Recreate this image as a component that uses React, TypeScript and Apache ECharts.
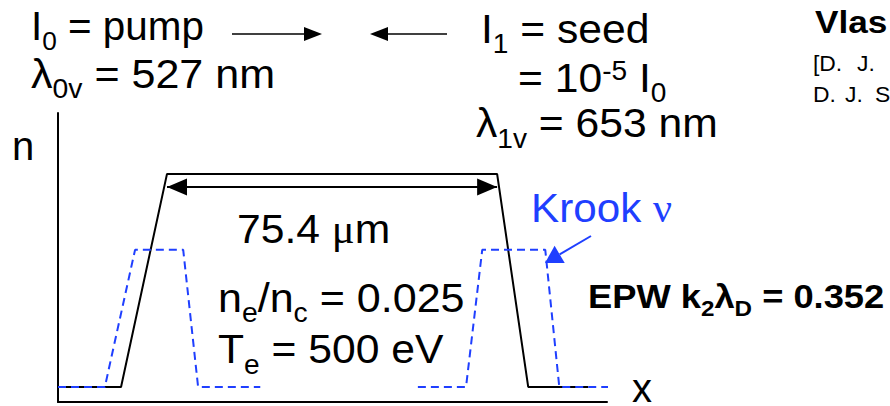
import { useEffect, useRef } from "react";
import * as echarts from "echarts";

// Density profile n(x): x in μm, n normalised to the plateau density
const densityX = [0, 14.4, 24.9, 100.3, 107.4, 121.1];
const densityN = [0.066, 0.066, 1, 1, 0.066, 0.066];

// Krook damping profile: absorbing layer on each side of the plasma
const krookLeftX = [0, 10.7, 17.6, 28.6, 32.0, 46.2];
const krookLeftV = [0.066, 0.066, 0.667, 0.667, 0.066, 0.066];
const krookRightX = [82.2, 93.2, 96.9, 111.3, 114.5, 128.9];
const krookRightV = [0.066, 0.066, 0.667, 0.667, 0.066, 0.066];

// Plateau width annotation (μm) and height of the dimension arrow
const plateauWidth = 75.4;
const dimArrowLevel = 0.943;

const X_MAX = 125.4;
const Y_MAX = 1.267;

const SANS = "'Liberation Sans', Arial, Helvetica, sans-serif";
const SERIF = "'Liberation Serif', 'Times New Roman', serif";
const BLUE = "#1f3fff";
// offset from the alphabetic baseline to the svg "central" baseline
const CENTRAL = 0.3465;

type Seg = { t: string; size?: number; dy?: number; family?: string; color?: string };
type RunOpts = { size: number; weight?: string; color?: string; family?: string; scaleX?: number };

let ctx: CanvasRenderingContext2D | null = null;
function textWidth(t: string, size: number, weight: string, family: string) {
  if (!ctx) ctx = document.createElement("canvas").getContext("2d");
  if (!ctx) return t.length * size * 0.55;
  ctx.font = `${weight} ${size}px ${family}`;
  return ctx.measureText(t).width;
}

// A line of text made of segments (sub/superscripts shift by dy), left-aligned at a baseline
function run(x: number, y: number, segs: Seg[], o: RunOpts) {
  const weight = o.weight ?? "normal";
  const children: any[] = [];
  let cx = 0;
  for (const s of segs) {
    const size = s.size ?? o.size;
    const family = s.family ?? o.family ?? SANS;
    const fill = s.color ?? o.color ?? "#000";
    const dy = s.dy ?? 0;
    const trimmed = s.t.trimStart();
    const lead = s.t.slice(0, s.t.length - trimmed.length);
    const leadW = lead ? textWidth(lead, size, weight, family) : 0;
    const body = trimmed.trimEnd();
    if (body) {
      children.push({
        type: "text",
        x: cx + leadW,
        y: dy - CENTRAL * size,
        silent: true,
        style: {
          text: body,
          fontSize: size,
          fontFamily: family,
          fontWeight: weight,
          fill,
          align: "left",
          verticalAlign: "middle",
          textAlign: "left",
          textVerticalAlign: "middle",
        },
      });
    }
    cx += textWidth(s.t, size, weight, family);
  }
  return { type: "group", x, y, scaleX: o.scaleX ?? 1, silent: true, children };
}

function arrow(x1: number, y1: number, x2: number, y2: number, len: number, half: number, color: string, lw: number) {
  const dx = x2 - x1;
  const dy = y2 - y1;
  const L = Math.hypot(dx, dy);
  const ux = dx / L;
  const uy = dy / L;
  const bx = x2 - ux * len;
  const by = y2 - uy * len;
  return [
    { type: "line", silent: true, shape: { x1, y1, x2: bx, y2: by }, style: { stroke: color, lineWidth: lw } },
    {
      type: "polygon",
      silent: true,
      shape: { points: [[x2, y2], [bx - uy * half, by + ux * half], [bx + uy * half, by - ux * half]] },
      style: { fill: color },
    },
  ];
}

export default function App() {
  const ref = useRef<HTMLDivElement>(null);

  useEffect(() => {
    if (!ref.current) return;
    const chart = echarts.init(ref.current, null, { renderer: "svg" });

    const plateauStart = densityX[2];
    const plateauEnd = plateauStart + plateauWidth;
    const small = { size: 22, scaleX: 1.04 };

    const graphic: any[] = [
      run(31, 40, [{ t: "I" }, { t: "0", size: 26, dy: 10 }, { t: " = pump" }], { size: 40, scaleX: 1.01 }),
      run(31, 88, [{ t: "λ" }, { t: "0v", size: 27, dy: 10 }, { t: " = 527 nm" }], { size: 41, scaleX: 1.05 }),
      run(481, 43, [{ t: "I" }, { t: "1", size: 27, dy: 10 }, { t: " = seed" }], { size: 41, scaleX: 1.04 }),
      run(518, 92, [{ t: "= 10" }, { t: "-5", size: 27, dy: -12 }, { t: " I" }, { t: "0", size: 27, dy: 10 }], { size: 41, scaleX: 1.04 }),
      run(476, 137, [{ t: "λ" }, { t: "1v", size: 27, dy: 11 }, { t: " = 653 nm" }], { size: 41, scaleX: 1.04 }),
      run(815, 33, [{ t: "Vlas" }], { size: 32, weight: "bold", scaleX: 1.1 }),
      run(813, 71, [{ t: "[D." }], small),
      run(857, 71, [{ t: "J." }], small),
      run(813, 102, [{ t: "D." }], small),
      run(845, 102, [{ t: "J." }], small),
      run(875, 102, [{ t: "S" }], small),
      run(237, 243, [{ t: "75.4 " }, { t: "μ", family: SERIF }, { t: "m" }], { size: 41, scaleX: 1.04 }),
      run(218, 312, [{ t: "n" }, { t: "e", size: 27, dy: 10 }, { t: "/n" }, { t: "c", size: 27, dy: 10 }, { t: " = 0.025" }], { size: 41, scaleX: 1.05 }),
      run(218, 363, [{ t: "T" }, { t: "e", size: 27, dy: 11 }, { t: " = 500 eV" }], { size: 41, scaleX: 1.04 }),
      run(531, 222, [{ t: "Krook " }, { t: "ν", family: SERIF }], { size: 41, color: BLUE, scaleX: 1.03 }),
      run(
        588,
        308,
        [{ t: "EPW k" }, { t: "2", size: 22, dy: 8 }, { t: "λ" }, { t: "D", size: 22, dy: 8 }, { t: " = 0.352" }],
        { size: 33, weight: "bold", scaleX: 1.1 }
      ),
      run(12, 160, [{ t: "n" }], { size: 40 }),
      run(632, 402, [{ t: "x" }], { size: 40 }),
      ...arrow(232, 34, 322, 34, 18, 7, "#000", 1.5),
      ...arrow(447, 34, 370, 34, 18, 7, "#000", 1.5),
      ...arrow(591, 236, 545, 263, 17, 10, BLUE, 2),
    ];

    chart.setOption({
      animation: false,
      backgroundColor: "#fff",
      grid: { left: 58, right: 283, top: 113, bottom: 4, containLabel: false },
      xAxis: {
        type: "value",
        min: 0,
        max: X_MAX,
        axisLine: { show: true, onZero: false, lineStyle: { color: "#000", width: 2 } },
        axisTick: { show: false },
        axisLabel: { show: false },
        splitLine: { show: false },
      },
      yAxis: {
        type: "value",
        min: 0,
        max: Y_MAX,
        axisLine: { show: true, onZero: false, lineStyle: { color: "#000", width: 2 } },
        axisTick: { show: false },
        axisLabel: { show: false },
        splitLine: { show: false },
      },
      series: [
        {
          name: "density",
          type: "line",
          data: densityX.map((x, i) => [x, densityN[i]]),
          symbol: "none",
          clip: false,
          silent: true,
          z: 2,
          lineStyle: { color: "#000", width: 2 },
          markLine: {
            silent: true,
            symbol: ["triangle", "triangle"],
            symbolSize: [17, 20],
            symbolOffset: [[0, 10], [0, 10]],
            label: { show: false },
            lineStyle: { color: "#000", width: 2, type: "solid" },
            itemStyle: { color: "#000" },
            data: [[{ coord: [plateauStart, dimArrowLevel] }, { coord: [plateauEnd, dimArrowLevel] }]],
          },
        },
        {
          name: "krook-left",
          type: "line",
          data: krookLeftX.map((x, i) => [x, krookLeftV[i]]),
          symbol: "none",
          clip: false,
          silent: true,
          z: 3,
          lineStyle: { color: BLUE, width: 2, type: [8, 5] },
        },
        {
          name: "krook-right",
          type: "line",
          data: krookRightX.map((x, i) => [x, krookRightV[i]]),
          symbol: "none",
          clip: false,
          silent: true,
          z: 3,
          lineStyle: { color: BLUE, width: 2, type: [8, 5] },
        },
      ],
      graphic,
    });

    return () => chart.dispose();
  }, []);

  return (
    <div
      ref={ref}
      style={{ position: "fixed", left: 0, top: 0, width: 890, height: 406, background: "#fff" }}
    />
  );
}
